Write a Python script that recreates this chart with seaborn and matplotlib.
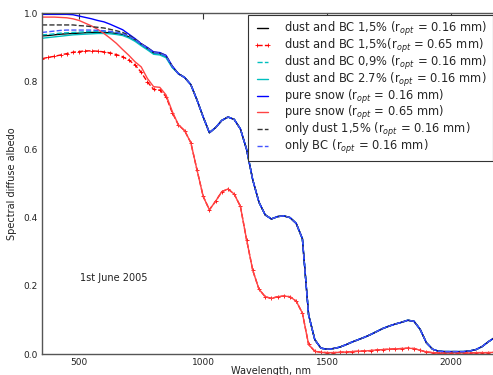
import matplotlib
matplotlib.use("Agg")
import matplotlib.pyplot as plt
import seaborn as sns
import numpy as np

# wavelengths (nm): visible part where the curves differ, and shared NIR tail
wl_vis = [350, 375, 400, 425, 450, 475, 500, 525, 550, 575, 600, 625, 650,
          675, 700, 725, 750, 775, 800, 825, 850, 875]
wl_nir = [900, 925, 950, 975, 1000, 1025, 1050, 1075, 1100, 1125, 1150, 1175,
          1200, 1225, 1250, 1275, 1300, 1325, 1350, 1375, 1400, 1425, 1450,
          1475, 1500, 1525, 1550, 1575, 1600, 1625, 1650, 1675, 1700, 1725,
          1750, 1775, 1800, 1825, 1850, 1875, 1900, 1925, 1950, 1975, 2000,
          2025, 2050, 2075, 2100, 2125, 2150, 2175, 2200]

# r_opt = 0.16 mm, visible part
pure_016_vis = [0.996, 0.996, 0.996, 0.996, 0.996, 0.995, 0.991, 0.987, 0.983,
                0.978, 0.974, 0.967, 0.959, 0.951, 0.938, 0.925, 0.910, 0.899,
                0.886, 0.884, 0.876, 0.845]
dust_only_vis = [0.965, 0.965, 0.965, 0.965, 0.965, 0.965, 0.963, 0.962, 0.960,
                 0.958, 0.956, 0.952, 0.948, 0.943, 0.935, 0.924, 0.910, 0.898,
                 0.885, 0.883, 0.875, 0.844]
bc_only_vis = [0.943, 0.945, 0.947, 0.949, 0.950, 0.950, 0.950, 0.950, 0.950,
               0.949, 0.948, 0.946, 0.943, 0.939, 0.932, 0.922, 0.909, 0.897,
               0.884, 0.882, 0.874, 0.843]
dust_bc15_vis = [0.933, 0.934, 0.936, 0.938, 0.939, 0.940, 0.941, 0.942, 0.943,
                 0.943, 0.943, 0.942, 0.940, 0.937, 0.930, 0.920, 0.907, 0.895,
                 0.882, 0.880, 0.872, 0.842]
dust_bc09_vis = [0.936, 0.937, 0.939, 0.941, 0.942, 0.943, 0.944, 0.945, 0.946,
                 0.946, 0.946, 0.945, 0.943, 0.940, 0.932, 0.922, 0.908, 0.896,
                 0.883, 0.881, 0.873, 0.843]
dust_bc27_vis = [0.926, 0.928, 0.930, 0.932, 0.934, 0.936, 0.937, 0.938, 0.939,
                 0.940, 0.940, 0.939, 0.937, 0.934, 0.927, 0.917, 0.904, 0.892,
                 0.879, 0.877, 0.869, 0.840]

# r_opt = 0.65 mm, visible part
pure_065_vis = [0.988, 0.988, 0.988, 0.987, 0.986, 0.983, 0.978, 0.970, 0.962,
                0.952, 0.940, 0.926, 0.911, 0.893, 0.876, 0.857, 0.842, 0.808,
                0.784, 0.782, 0.760, 0.712]
dust_bc15_065_vis = [0.866, 0.870, 0.873, 0.877, 0.881, 0.885, 0.887, 0.889,
                     0.889, 0.888, 0.886, 0.883, 0.878, 0.872, 0.862, 0.848,
                     0.826, 0.798, 0.776, 0.774, 0.755, 0.708]

# NIR tails (impurities have no effect there)
tail_016 = [0.822, 0.811, 0.790, 0.745, 0.695, 0.649, 0.664, 0.685, 0.695,
            0.688, 0.660, 0.600, 0.510, 0.445, 0.408, 0.396, 0.403, 0.405,
            0.400, 0.383, 0.338, 0.115, 0.042, 0.017, 0.014, 0.016, 0.020,
            0.027, 0.035, 0.042, 0.049, 0.057, 0.066, 0.075, 0.082, 0.088,
            0.093, 0.099, 0.096, 0.072, 0.033, 0.014, 0.008, 0.007, 0.007,
            0.007, 0.007, 0.009, 0.013, 0.022, 0.036, 0.048, 0.060]
tail_065 = [0.672, 0.655, 0.620, 0.540, 0.462, 0.423, 0.448, 0.476, 0.484,
            0.469, 0.433, 0.335, 0.245, 0.190, 0.168, 0.163, 0.168, 0.170,
            0.168, 0.155, 0.120, 0.028, 0.008, 0.005, 0.004, 0.004, 0.005,
            0.006, 0.007, 0.008, 0.009, 0.010, 0.012, 0.013, 0.014, 0.015,
            0.016, 0.017, 0.016, 0.011, 0.006, 0.004, 0.003, 0.003, 0.003,
            0.003, 0.003, 0.003, 0.004, 0.004, 0.004, 0.005, 0.005]

wl = wl_vis + wl_nir

series = [
    (r"dust and BC 1,5% (r$_{opt}$ = 0.16 mm)", dust_bc15_vis + tail_016, "k", "-", None),
    (r"dust and BC 1,5%(r$_{opt}$ = 0.65 mm)", dust_bc15_065_vis + tail_065, "r", "--", "+"),
    (r"dust and BC 0,9% (r$_{opt}$ = 0.16 mm)", dust_bc09_vis + tail_016, "c", "--", None),
    (r"dust and BC 2.7% (r$_{opt}$ = 0.16 mm)", dust_bc27_vis + tail_016, "c", "-", None),
    (r"pure snow (r$_{opt}$ = 0.16 mm)", pure_016_vis + tail_016, "b", "-", None),
    (r"pure snow (r$_{opt}$ = 0.65 mm)", pure_065_vis + tail_065, "#ff4444", "-", None),
    (r"only dust 1,5% (r$_{opt}$ = 0.16 mm)", dust_only_vis + tail_016, "#333333", "--", None),
    (r"only BC (r$_{opt}$ = 0.16 mm)", bc_only_vis + tail_016, "#4455ff", "--", None),
]

sns.set_style("white")
plt.rcParams['font.family'] = ['DejaVu Sans']

fig = plt.figure(figsize=(4.93, 3.75), dpi=100)
ax = fig.add_axes([0.0852, 0.056, 0.9306, 0.9093])

for label, vals, col, ls, mk in series:
    sns.lineplot(x=wl, y=vals, ax=ax, color=col, linestyle=ls, marker=mk,
                 markersize=3.5, markeredgewidth=0.6, markeredgecolor=col,
                 linewidth=1.0, label=label, sort=False)

ax.set_xlim(350, 2200)
ax.set_ylim(0, 1.0)
ax.set_xticks([500, 1000, 1500, 2000])
ax.set_yticks([0.0, 0.2, 0.4, 0.6, 0.8, 1.0])
ax.tick_params(direction="in", top=True, right=True, length=4, width=0.8,
               labelsize=6.5, colors="#333333", labelcolor="#222222", pad=3)
for sp in ax.spines.values():
    sp.set_color("#555555")
    sp.set_linewidth(1.0)

ax.set_xlabel("Wavelength, nm", fontsize=7, color="#222222", labelpad=-0.5)
ax.set_ylabel("Spectral diffuse albedo", fontsize=7, color="#222222", labelpad=5)
ax.text(505, 0.215, "1st June 2005", fontsize=7, color="#222222")

leg = ax.legend(loc="upper left", bbox_to_anchor=(0.449, 0.994), borderaxespad=0,
                fontsize=8.3, numpoints=2, handlelength=1.6, handletextpad=1.1,
                labelspacing=-0.1, fancybox=False, framealpha=1, borderpad=0.45)
leg.get_frame().set_edgecolor("#333333")
leg.get_frame().set_linewidth(0.8)

fig.savefig("out.png", dpi=100)
